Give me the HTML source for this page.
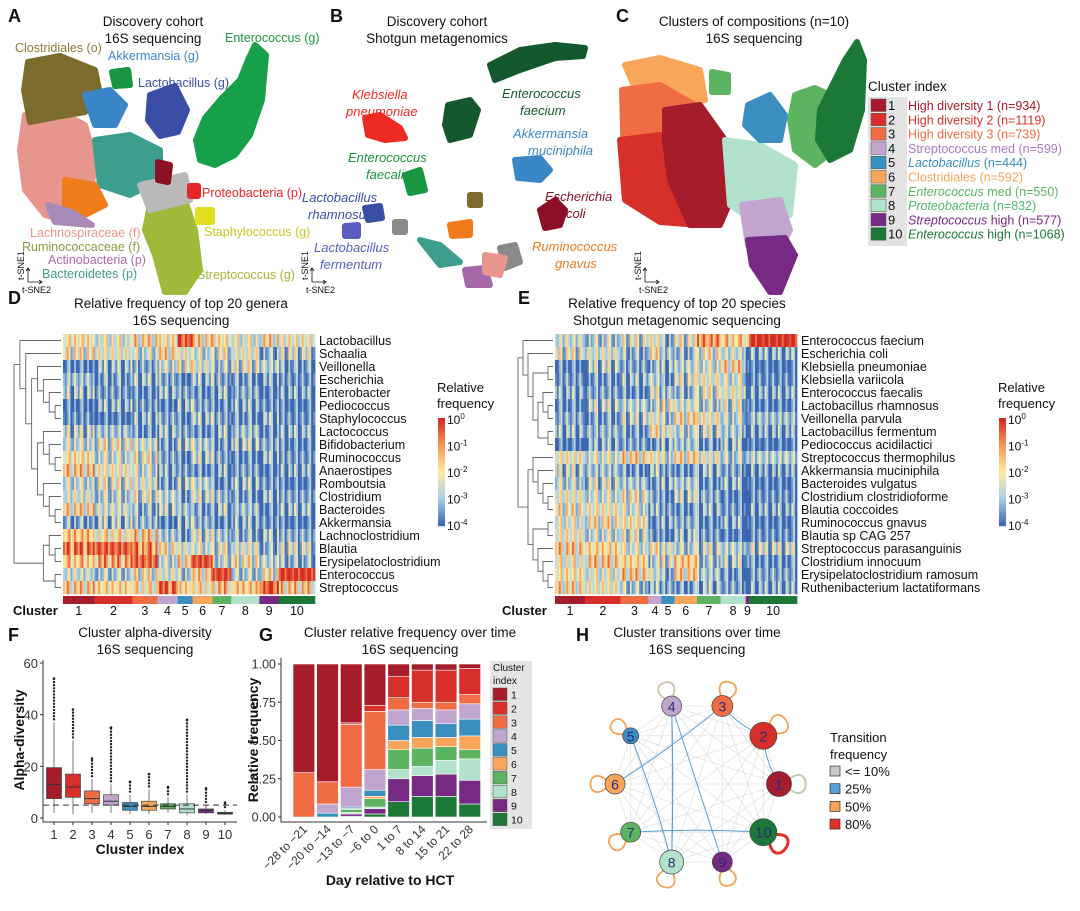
<!DOCTYPE html>
<html><head><meta charset="utf-8"><style>
body{margin:0;background:#fff}
svg{display:block;font-family:"Liberation Sans",Arial,sans-serif}
</style></head><body>
<svg id="fig" width="1080" height="911" viewBox="0 0 1080 911" xmlns="http://www.w3.org/2000/svg">
<g id="gA"></g>
<g id="gB"></g>
<g id="gC"></g>
<g id="gD"></g>
<g id="gE"></g>
<g id="gF"></g>
<g id="gG"></g>
<g id="gH"></g>
</svg>
<script>
const NS="http://www.w3.org/2000/svg";
function mk(parent,tag,attrs,name,text){const e=document.createElementNS(NS,tag);for(const k in attrs)e.setAttribute(k,attrs[k]);


if(text!==undefined)e.textContent=text;parent.appendChild(e);return e;}
function txt(p,x,y,s,o,name){o=o||{};return mk(p,'text',Object.assign({x:x,y:y,'font-size':o.fs||13,fill:o.fill||'#111','text-anchor':o.anchor||'start','font-weight':o.fw||'normal','font-style':o.fi||'normal'},o.tr?{transform:o.tr}:{}),name||'label',s);}
const CL=['#a51c2c','#d7302a','#f06c45','#c2a5cf','#3a8fc0','#f9a65a','#5cb460','#b2e2cc','#762a83','#1b7837'];

/* ---------- Panels A-C: t-SNE blobs ---------- */
const blobsA=[
['#e8958e',[[25,115],[60,112],[85,125],[95,160],[90,200],[70,222],[45,215],[25,190],[20,150]]],
['#7b6b2c',[[28,62],[60,56],[95,70],[100,95],[85,112],[50,118],[30,122],[24,90]]],
['#3a87c8',[[85,95],[110,90],[125,105],[115,125],[95,125]]],
['#3b4ea6',[[150,95],[175,86],[187,110],[178,132],[160,136],[148,120]]],
['#17a04a',[[255,45],[266,55],[262,100],[250,135],[235,155],[215,165],[200,160],[196,140],[205,118],[222,98],[240,80],[248,60]]],
['#3d9e8e',[[95,140],[130,135],[160,150],[160,180],[130,195],[100,185]]],
['#f07c1c',[[65,180],[95,185],[105,205],[85,215],[65,205]]],
['#a88ab8',[[48,205],[72,212],[92,225],[55,222]]],
['#9fb93a',[[150,205],[185,200],[195,230],[200,270],[185,292],[165,292],[155,255],[145,230]]],
['#b9b9b9',[[140,185],[185,175],[190,200],[150,210]]],
['#8b1026',[[158,162],[170,165],[168,182],[158,180]]],
['#e8262a',[[190,186],[198,186],[198,196],[190,196]]],
['#e0e020',[[198,210],[212,210],[212,222],[198,222]]],
['#1a9641',[[112,72],[128,70],[130,85],[115,86]]]];
const blobsB=[
['#14592e',[[490,65],[520,50],[555,45],[585,48],[583,56],[555,58],[520,70],[495,80]]],
['#14592e',[[448,105],[470,100],[478,110],[470,135],[450,140],[445,125]]],
['#ee2a24',[[365,118],[380,115],[400,128],[405,138],[385,140],[368,135]]],
['#3a87c8',[[515,160],[540,158],[550,170],[540,180],[518,178]]],
['#1a9641',[[405,175],[420,170],[425,190],[410,193]]],
['#3b4ea6',[[365,208],[380,206],[382,218],[368,220]]],
['#5a5ec0',[[345,226],[358,225],[358,236],[345,236]]],
['#8b1026',[[540,210],[555,200],[565,210],[560,225],[545,228]]],
['#8a8a8a',[[500,248],[515,245],[520,262],[505,268]]],
['#3d9e8e',[[420,240],[440,245],[460,262],[440,265]]],
['#f07c1c',[[450,225],[470,222],[470,235],[452,236]]],
['#a668a8',[[465,270],[485,268],[490,285],[468,285]]],
['#8a8a8a',[[395,222],[405,222],[405,232],[395,232]]],
['#e8958e',[[485,255],[505,258],[500,275],[485,272]]],
['#7b6b2c',[[470,195],[480,195],[480,205],[470,205]]]];
const blobsC=[
['#f9a65a',[[625,65],[660,58],[700,70],[705,100],[680,105],[640,100]]],
['#f06c45',[[622,90],[660,85],[695,105],[690,140],[660,160],[624,165]]],
['#d7302a',[[620,140],[660,135],[700,150],[720,200],[700,225],[660,222],[625,200]]],
['#a51c2c',[[665,110],[700,105],[725,140],[735,190],[720,225],[690,225],[670,180],[665,140]]],
['#b2e2cc',[[725,140],[760,145],[795,165],[790,215],[760,225],[730,205]]],
['#c2a5cf',[[742,205],[780,200],[790,230],[780,250],[748,245]]],
['#762a83',[[748,240],[785,238],[795,255],[780,292],[770,292],[752,265]]],
['#3a8fc0',[[748,105],[770,95],[785,115],[780,140],[760,140],[745,125]]],
['#5cb460',[[795,95],[815,88],[840,100],[835,150],[815,165],[795,150],[790,120]]],
['#1b7837',[[857,42],[864,60],[862,110],[850,150],[830,160],[818,140],[820,110],[835,80],[845,60]]],
['#5cb460',[[712,72],[728,75],[728,92],[712,92]]]];
function drawBlobs(g,bl){bl.forEach(b=>{mk(g,'polygon',{points:b[1].map(p=>p.join(',')).join(' '),fill:b[0],stroke:b[0],'stroke-width':6,'stroke-linejoin':'round'},'point-cluster');});}
function axArrow(g,x,y){mk(g,'path',{d:`M${x} ${y-14} L${x} ${y} L${x+14} ${y} M${x-2} ${y-11} L${x} ${y-14} L${x+2} ${y-11} M${x+11} ${y-2} L${x+14} ${y} L${x+11} ${y+2}`,fill:'none',stroke:'#111','stroke-width':0.8},'tsne-axes');
txt(g,x-4,y-2,'t-SNE1',{fs:9,tr:`rotate(-90 ${x-4} ${y-2})`},'tsne1-label');txt(g,x-6,y+11,'t-SNE2',{fs:9},'tsne2-label');}
const gA=document.getElementById('gA'),gB=document.getElementById('gB'),gC=document.getElementById('gC');
drawBlobs(gA,blobsA);drawBlobs(gB,blobsB);drawBlobs(gC,blobsC);
txt(gA,8,22,'A',{fs:18,fw:'bold'},'panel-label');
txt(gA,153,26,'Discovery cohort',{fs:13.5,anchor:'middle'},'title');txt(gA,153,43,'16S sequencing',{fs:13.5,anchor:'middle'},'title');
[['Clostridiales (o)',15,52,'#8b7a3a'],['Akkermansia (g)',108,60,'#3a87c8'],['Enterococcus (g)',225,42,'#1a9641'],['Lactobacillus (g)',138,87,'#3b4ea6'],['Proteobacteria (p)',202,197,'#e8262a'],['Staphylococcus (g)',204,236,'#c8c820'],['Lachnospiraceae (f)',30,237,'#e8958e'],['Ruminococcaceae (f)',22,251,'#8a9a3a'],['Actinobacteria (p)',48,264,'#b06aa8'],['Bacteroidetes (p)',42,278,'#3d9e8e'],['Streptococcus (g)',197,279,'#9fb93a']].forEach(l=>txt(gA,l[1],l[2],l[0],{fs:12.5,fill:l[3]},'taxon-label'));
axArrow(gA,28,282);
txt(gB,330,22,'B',{fs:18,fw:'bold'},'panel-label');
txt(gB,437,26,'Discovery cohort',{fs:13.5,anchor:'middle'},'title');txt(gB,437,43,'Shotgun metagenomics',{fs:13.5,anchor:'middle'},'title');
[['Klebsiella',352,99,'#ee2a24'],['pneumoniae',346,116,'#ee2a24'],['Enterococcus',502,98,'#14592e'],['faecium',520,115,'#14592e'],['Akkermansia',513,138,'#3a87c8'],['muciniphila',528,155,'#3a87c8'],['Enterococcus',348,162,'#1a9641'],['faecalis',366,179,'#1a9641'],['Lactobacillus',302,202,'#3b4ea6'],['rhamnosus',308,219,'#3b4ea6'],['Lactobacillus',314,252,'#5a5ec0'],['fermentum',320,269,'#5a5ec0'],['Escherichia',545,201,'#8b1026'],['coli',566,218,'#8b1026'],['Ruminococcus',532,251,'#f07c1c'],['gnavus',555,268,'#f07c1c']].forEach(l=>txt(gB,l[1],l[2],l[0],{fs:13,fill:l[3],fi:'italic'},'species-label'));
axArrow(gB,312,282);
txt(gC,616,22,'C',{fs:18,fw:'bold'},'panel-label');
txt(gC,754,26,'Clusters of compositions (n=10)',{fs:13.5,anchor:'middle'},'title');txt(gC,754,43,'16S sequencing',{fs:13.5,anchor:'middle'},'title');
axArrow(gC,645,282);
txt(gC,868,91,'Cluster index',{fs:13.5},'legend-title');
mk(gC,'rect',{x:868,y:97,width:39,height:149,fill:'#e3e3e3'},'legend-bg');
const legC=[['High diversity 1 (n=934)',''],['High diversity 2 (n=1119)',''],['High diversity 3 (n=739)',''],['Streptococcus med (n=599)',''],['Lactobacillus',' (n=444)'],['Clostridiales (n=592)',''],['Enterococcus',' med (n=550)'],['Proteobacteria',' (n=832)'],['Streptococcus',' high (n=577)'],['Enterococcus',' high (n=1068)']];
legC.forEach((l,i)=>{const y=99+i*14.3;mk(gC,'rect',{x:871,y:y,width:15,height:12.5,fill:CL[i],stroke:'#555','stroke-width':0.5},'legend-swatch');
txt(gC,888,y+11,String(i+1),{fs:13},'legend-number');
const t=txt(gC,908,y+11,'',{fs:12.5,fill:i==7?'#4cb870':(i==3?'#a87cc0':CL[i])},'legend-entry');
const it=l[1]!==''; const s1=document.createElementNS(NS,'tspan');s1.textContent=l[0];if(it)s1.setAttribute('font-style','italic');t.appendChild(s1);
if(it){const s2=document.createElementNS(NS,'tspan');s2.textContent=l[1];t.appendChild(s2);}});

/* ---------- Heatmaps ---------- */
const stops=[[0,[60,102,177]],[1,[171,208,230]],[2,[253,236,160]],[3,[249,150,85]],[4,[210,43,38]]];
function cmap(v){v=Math.max(0,Math.min(4,v));const i=Math.min(3,Math.floor(v)),f=v-i,a=stops[i][1],b=stops[i+1][1];return `rgb(${a.map((c,k)=>Math.round(c+(b[k]-c)*f)).join(',')})`;}
const jitter=[0,-0.7,0.9,-0.4,1.3,-0.9,0.2,0.6,-1.1,1.0,-0.2,0.4,-0.6,1.6,-0.8,0.1,0.7,-0.5,1.1,-1.0,0.3];
const genera=['Lactobacillus','Schaalia','Veillonella','Escherichia','Enterobacter','Pediococcus','Staphylococcus','Lactococcus','Bifidobacterium','Ruminococcus','Anaerostipes','Romboutsia','Clostridium','Bacteroides','Akkermansia','Lachnoclostridium','Blautia','Erysipelatoclostridium','Enterococcus','Streptococcus'];
const levelsD=[[1.8,1.8,1.8,1.8,4,1.8,1.8,1.8,1.8,1.6],[1.5,1.5,1.5,1.8,1.5,1.5,1.3,1.5,1.0,1.0],[0.5,0.5,0.5,1.5,1.3,1.3,1.2,1.2,1.0,0.8],[0.8,0.8,0.6,0.5,0.3,0.5,0.5,0.8,0.3,0.3],[0.6,0.4,0.5,0.5,0.5,0.6,0.5,0.6,0.4,0.3],[0.4,0.4,0.4,0.4,0.5,0.5,0.6,0.4,0.3,0.3],[0.3,0.3,0.4,0.5,0.5,0.6,0.5,0.7,0.5,0.3],[0.8,0.8,0.6,0.6,0.5,0.6,0.6,0.8,0.6,0.4],[1.5,1.3,1.2,0.8,0.8,0.9,0.8,0.8,0.6,0.5],[1.8,1.5,1.3,0.5,0.5,0.8,0.5,0.6,0.5,0.4],[2.0,1.6,1.5,0.4,0.4,0.6,0.4,0.5,0.4,0.3],[1.5,1.2,1.3,0.8,0.8,1.0,0.5,0.6,0.4,0.3],[1.3,1.3,1.2,1.0,0.8,1.0,0.7,0.8,0.5,0.5],[1.8,1.2,1.0,0.8,0.8,0.8,0.7,0.8,0.5,0.5],[0.9,0.7,0.7,0.4,0.5,0.6,0.5,0.4,0.3,0.3],[2.3,2.2,2.0,0.8,0.8,1.0,0.8,1.0,0.6,0.6],[3.0,3.4,3.2,1.6,1.3,1.6,1.2,1.3,1.0,1.0],[2.6,2.4,3.3,1.5,1.8,3.6,1.4,1.5,1.0,1.0],[1.2,1.3,1.5,1.3,1.3,1.8,3.7,1.3,1.5,3.8],[2.0,2.0,2.2,3.2,2.0,2.2,2.2,2.2,3.9,2.0]];
const clusterSizesD=[934,1119,739,599,444,592,550,832,577,1068];
const species=['Enterococcus faecium','Escherichia coli','Klebsiella pneumoniae','Klebsiella variicola','Enterococcus faecalis','Lactobacillus rhamnosus','Veillonella parvula','Lactobacillus fermentum','Pediococcus acidilactici','Streptococcus thermophilus','Akkermansia muciniphila','Bacteroides vulgatus','Clostridium clostridioforme','Blautia coccoides','Ruminococcus gnavus','Blautia sp CAG 257','Streptococcus parasanguinis','Clostridium innocuum','Erysipelatoclostridium ramosum','Ruthenibacterium lactatiformans'];
const levelsE=[[1.2,1.3,1.2,1.5,1.0,1.2,2.8,2.5,3.0,3.9],[1.2,1.3,1.0,1.5,0.8,1.0,1.5,1.2,0.5,0.4],[0.5,0.8,0.5,1.0,0.6,1.0,1.6,1.8,0.4,0.2],[0.4,0.7,0.5,1.0,0.6,1.0,1.5,1.6,0.4,0.2],[0.4,0.5,0.6,1.0,0.8,1.0,1.3,1.5,0.4,0.3],[0.6,0.8,1.0,1.2,1.4,1.2,1.3,1.1,0.6,0.4],[0.6,0.8,0.9,1.4,1.2,1.6,1.6,1.4,1.0,0.8],[0.5,0.7,0.8,1.5,1.4,1.3,1.0,0.9,0.4,0.3],[0.3,0.4,0.5,0.6,0.6,0.8,0.7,0.6,0.4,0.2],[1.6,1.7,1.8,1.6,1.5,1.6,1.4,1.3,1.8,1.0],[0.9,0.8,0.7,0.6,0.4,0.6,0.6,0.5,0.3,0.2],[1.4,1.0,0.9,0.6,0.6,0.9,0.6,0.5,0.3,0.3],[1.5,1.6,1.4,0.5,0.5,0.8,0.6,0.4,0.3,0.3],[1.5,1.6,1.6,0.4,0.4,0.6,0.5,0.4,0.3,0.3],[1.8,1.6,1.7,0.4,0.4,0.6,0.5,0.4,0.3,0.3],[1.6,1.5,1.2,0.3,0.3,0.5,0.4,0.3,0.3,0.3],[2.0,2.0,1.7,1.4,1.3,1.3,1.0,1.0,1.4,0.9],[2.0,2.0,2.0,1.3,1.2,2.2,1.2,0.8,0.8,0.6],[1.8,1.8,2.0,1.2,1.0,1.8,0.9,0.7,0.6,0.5],[1.8,1.6,1.2,0.5,0.5,0.7,0.6,0.5,0.4,0.3]];
const clusterSizesE=[345,410,320,150,150,260,270,290,40,550];
const treeD=[[0,[1,[[2,[3,[4,[5,6]]]],[[7,[8,[9,10]]],[11,[12,[13,14]]]]]]],[[15,[16,17]],[18,19]]];
const treeE=[[0,[1,[[2,3],[[4,[5,6]],[7,8]]]]],[[9,[10,[11,[12,13]]]],[[14,15],[16,[17,[18,19]]]]]];
function heatmap(g,o){
 const rows=o.rows,lev=o.levels,sizes=o.sizes,total=sizes.reduce((a,b)=>a+b,0);
 const W=o.x1-o.x0,rh=(o.y1-o.y0)/rows.length,cw=1.9;
 let cx=o.x0;const bounds=[];
 sizes.forEach((s,ci)=>{const w=W*s/total;bounds.push([cx,w]);
  const n=Math.max(1,Math.round(w/cw)),sw=w/n;
  rows.forEach((r,ri)=>{for(let k=0;k<n;k++){const j=jitter[(k*3+ri*7+ci*5)%jitter.length];
   mk(g,'rect',{x:(cx+k*sw).toFixed(2),y:(o.y0+ri*rh).toFixed(2),width:(sw+0.4).toFixed(2),height:(rh+0.3).toFixed(2),fill:cmap(lev[ri][ci]+j*0.9)},'heatmap-cell');}});
  mk(g,'rect',{x:cx,y:o.y1+2,width:w+0.3,height:8,fill:CL[ci]},'cluster-bar-segment');
  cx+=w;});
 rows.forEach((r,ri)=>txt(g,o.x1+4,o.y0+ri*rh+rh/2+4.5,r,{fs:12.5},'row-label'));
 txt(g,o.clx,o.y1+21,'Cluster',{fs:13,fw:'bold'},'cluster-axis-label');
 bounds.forEach((b,ci)=>txt(g,b[0]+b[1]/2,o.y1+21,String(ci+1),{fs:12.5,anchor:'middle'},'cluster-tick'));
 // dendrogram
 const depth=t=>Array.isArray(t)?1+Math.max(depth(t[0]),depth(t[1])):0;
 const D=depth(o.tree),step=(o.x0-2-o.dx)/D;
 function draw(t){if(!Array.isArray(t))return{y:o.y0+t*rh+rh/2,x:o.x0-2};
  const a=draw(t[0]),b=draw(t[1]);const x=o.x0-2-depth(t)*step;
  mk(g,'path',{d:`M${a.x} ${a.y}H${x}V${b.y}H${b.x}`,fill:'none',stroke:'#666','stroke-width':0.9},'dendrogram-branch');
  return{x:x,y:(a.y+b.y)/2};}
 draw(o.tree);
 // colorbar
 for(let i=0;i<54;i++)mk(g,'rect',{x:o.cbx,y:418+i*2,width:7,height:2.2,fill:cmap(4-i/53*4)},'colorbar-segment');
 txt(g,o.cbx-1,392,'Relative',{fs:13},'colorbar-title');txt(g,o.cbx-1,408,'frequency',{fs:13},'colorbar-title');
 ['0','-1','-2','-3','-4'].forEach((e,i)=>{const t=txt(g,o.cbx+9,424+i*26.5,'10',{fs:12},'colorbar-tick');const s=document.createElementNS(NS,'tspan');s.setAttribute('dy','-5');s.setAttribute('font-size','8');s.textContent=e;t.appendChild(s);});
}
const gD=document.getElementById('gD'),gE=document.getElementById('gE');
txt(gD,8,304,'D',{fs:18,fw:'bold'},'panel-label');
txt(gD,181,308,'Relative frequency of top 20 genera',{fs:13.5,anchor:'middle'},'title');txt(gD,181,325,'16S sequencing',{fs:13.5,anchor:'middle'},'title');
heatmap(gD,{rows:genera,levels:levelsD,sizes:clusterSizesD,x0:63,x1:315,y0:334,y1:594,tree:treeD,dx:14,cbx:438,clx:13});
txt(gE,518,304,'E',{fs:18,fw:'bold'},'panel-label');
txt(gE,677,308,'Relative frequency of top 20 species',{fs:13.5,anchor:'middle'},'title');txt(gE,677,325,'Shotgun metagenomic sequencing',{fs:13.5,anchor:'middle'},'title');
heatmap(gE,{rows:species,levels:levelsE,sizes:clusterSizesE,x0:555,x1:797,y0:334,y1:594,tree:treeE,dx:518,cbx:999,clx:502});

/* ---------- Panel F: boxplot ---------- */
const fClusters=['1','2','3','4','5','6','7','8','9','10'];
const fMedian=[13,12,7.5,6.5,4.5,4.5,4.5,3.5,3,1.8];
const fQ1=[7.5,8,5.5,5,3,3,3.5,2,2,1.5];
const fQ3=[19.5,17,10.5,9,6,6.5,5.5,5.5,3.5,2.2];
const fLo=[2,1.5,2,2,1.5,1.5,2,1,1.5,1.2];
const fHi=[37,30,15,13,9,11,8,9,5,3];
const fOutMax=[54,42,23,35,14,17,12,38,11.5,6];
const fTicks=[0,20,40,60];
const gF=document.getElementById('gF');
const fy=v=>818-v*2.583,fx=i=>54+i*19;
txt(gF,8,641,'F',{fs:18,fw:'bold'},'panel-label');
txt(gF,145,637,'Cluster alpha-diversity',{fs:13.5,anchor:'middle'},'title');txt(gF,145,654,'16S sequencing',{fs:13.5,anchor:'middle'},'title');
mk(gF,'path',{d:'M43 660V822H237',fill:'none',stroke:'#333','stroke-width':1},'axes');
fTicks.forEach(t=>{mk(gF,'line',{x1:40,x2:43,y1:fy(t),y2:fy(t),stroke:'#333'},'y-tick');txt(gF,38,fy(t)+5,String(t),{fs:13,anchor:'end',fill:'#333'},'y-tick-label');});
txt(gF,24,740,'Alpha-diversity',{fs:14,fw:'bold',anchor:'middle',tr:'rotate(-90 24 740)'},'y-axis-title');
fClusters.forEach((c,i)=>{const x=fx(i),w=15;
 mk(gF,'line',{x1:x,x2:x,y1:fy(fLo[i]),y2:fy(fHi[i]),stroke:'#777','stroke-width':1},'whisker');
 for(let v=fHi[i]+1.2;v<=fOutMax[i];v+=1.2)mk(gF,'circle',{cx:x,cy:fy(v),r:1.2,fill:'#222'},'outlier');
 mk(gF,'circle',{cx:x,cy:fy(fOutMax[i]),r:1.3,fill:'#222'},'outlier');
 mk(gF,'rect',{x:x-w/2,y:fy(fQ3[i]),width:w,height:fy(fQ1[i])-fy(fQ3[i]),fill:CL[i],stroke:'#444','stroke-width':0.7},'box-cluster-'+c);
 mk(gF,'line',{x1:x-w/2,x2:x+w/2,y1:fy(fMedian[i]),y2:fy(fMedian[i]),stroke:'#333','stroke-width':1},'median');
 mk(gF,'line',{x1:x,x2:x,y1:822,y2:825,stroke:'#333'},'x-tick');
 txt(gF,x,839,c,{fs:13,anchor:'middle',fill:'#333'},'x-tick-label');});
mk(gF,'line',{x1:43,x2:237,y1:fy(5),y2:fy(5),stroke:'#333','stroke-dasharray':'6 4','stroke-width':1},'threshold-line');
txt(gF,140,854,'Cluster index',{fs:14,fw:'bold',anchor:'middle'},'x-axis-title');

/* ---------- Panel G: stacked bars ---------- */
const gPeriods=['\u221228 to \u221221','\u221220 to \u221214','\u221213 to \u22127','\u22126 to 0','1 to 7','8 to 14','15 to 21','22 to 28'];
const gC1=[0.71,0.77,0.385,0.27,0.08,0.04,0.04,0.03];
const gC2=[0,0,0.01,0.04,0.14,0.21,0.21,0.17];
const gC3=[0.29,0.145,0.41,0.38,0.08,0.04,0.05,0.06];
const gC4=[0,0.06,0.13,0.135,0.10,0.08,0.09,0.10];
const gC5=[0,0.025,0.01,0.04,0.10,0.11,0.09,0.11];
const gC6=[0,0,0.005,0.015,0.06,0.07,0.06,0.09];
const gC7=[0,0,0.02,0.055,0.13,0.12,0.09,0.06];
const gC8=[0,0,0.01,0.01,0.06,0.06,0.09,0.14];
const gC9=[0,0,0.015,0.035,0.15,0.135,0.145,0.155];
const gC10=[0,0,0.005,0.02,0.10,0.135,0.135,0.085];
const gSeries=[gC10,gC9,gC8,gC7,gC6,gC5,gC4,gC3,gC2,gC1];
const gTicks=['0.00','0.25','0.50','0.75','1.00'];
const gG=document.getElementById('gG');
const gy=v=>817-v*153,gx=i=>293+i*23.7;
txt(gG,259,641,'G',{fs:18,fw:'bold'},'panel-label');
txt(gG,410,637,'Cluster relative frequency over time',{fs:13.5,anchor:'middle'},'title');txt(gG,410,654,'16S sequencing',{fs:13.5,anchor:'middle'},'title');
mk(gG,'path',{d:'M281 658V822H487',fill:'none',stroke:'#333','stroke-width':1},'axes');
gTicks.forEach(t=>{const v=parseFloat(t);mk(gG,'line',{x1:278,x2:281,y1:gy(v),y2:gy(v),stroke:'#333'},'y-tick');txt(gG,276,gy(v)+4.5,t,{fs:12.5,anchor:'end',fill:'#333'},'y-tick-label');});
txt(gG,258,740,'Relative frequency',{fs:14,fw:'bold',anchor:'middle',tr:'rotate(-90 258 740)'},'y-axis-title');
gPeriods.forEach((p,i)=>{let cum=0;const x=gx(i);
 gSeries.forEach((s,k)=>{const v=s[i];if(v>0)mk(gG,'rect',{x:x,y:gy(cum+v),width:21.7,height:gy(cum)-gy(cum+v),fill:CL[9-k],stroke:'#fff','stroke-width':0.6},'bar-segment-cluster-'+(10-k));cum+=v;});
 txt(gG,x+15,830,p,{fs:12,anchor:'end',fill:'#333',tr:`rotate(-45 ${x+15} 830)`},'x-tick-label');});
txt(gG,390,885,'Day relative to HCT',{fs:14,fw:'bold',anchor:'middle'},'x-axis-title');
mk(gG,'rect',{x:490,y:661,width:42,height:168,fill:'#e5e5e5'},'legend-bg');
txt(gG,493,671,'Cluster',{fs:10},'legend-title');txt(gG,493,684,'index',{fs:10},'legend-title');
CL.forEach((c,i)=>{mk(gG,'rect',{x:493,y:688+i*13.9,width:14,height:12.5,fill:c,stroke:'#555','stroke-width':0.5},'legend-swatch');txt(gG,511,698.5+i*13.9,String(i+1),{fs:10.5},'legend-label');});

/* ---------- Panel H: network ---------- */
const hNodes=['1','2','3','4','5','6','7','8','9','10'];
const hSize=[12.5,13.5,10.5,10,8,10,10,12,10,13.5];
const hSelf=[10,50,50,10,50,50,50,50,50,80];
const hEdgesFrom=['3','2','4','4','3','10','5','4'];
const hEdgesTo=['6','1','8','9','2','7','8','8'];
const gH=document.getElementById('gH');
const hcx=697,hcy=784,hR=82;
const hAng=[0,-36,-72,-108,-144,180,144,108,72,36].map(a=>a*Math.PI/180);
const hPos=i=>[hcx+hR*Math.cos(hAng[i]),hcy+hR*Math.sin(hAng[i])];
txt(gH,576,641,'H',{fs:18,fw:'bold'},'panel-label');
txt(gH,697,637,'Cluster transitions over time',{fs:13.5,anchor:'middle'},'title');txt(gH,697,654,'16S sequencing',{fs:13.5,anchor:'middle'},'title');
for(let i=0;i<10;i++)for(let j=i+1;j<10;j++){const a=hPos(i),b=hPos(j);mk(gH,'line',{x1:a[0],y1:a[1],x2:b[0],y2:b[1],stroke:'#e4e4e4','stroke-width':0.8},'edge-minor');}
hEdgesFrom.forEach((f,k)=>{const a=hPos(hNodes.indexOf(f)),b=hPos(hNodes.indexOf(hEdgesTo[k]));const mx=(a[0]+b[0])/2+(hcx-(a[0]+b[0])/2)*0.08,my=(a[1]+b[1])/2+(hcy-(a[1]+b[1])/2)*0.08;
 mk(gH,'path',{d:`M${a[0]} ${a[1]}Q${mx} ${my} ${b[0]} ${b[1]}`,fill:'none',stroke:'#5a9fd4','stroke-width':1},'edge-25pct');});
const fcol=v=>v>=80?'#e0302a':v>=50?'#f7a254':v>=25?'#5a9fd4':'#c9c1aa';
hNodes.forEach((n,i)=>{const p=hPos(i),a=hAng[i],r=hSize[i];
 const p1=[p[0]+r*Math.cos(a-0.45),p[1]+r*Math.sin(a-0.45)],p2=[p[0]+r*Math.cos(a+0.45),p[1]+r*Math.sin(a+0.45)];
 const L=r+26;const c1=[p[0]+L*Math.cos(a-0.6),p[1]+L*Math.sin(a-0.6)],c2=[p[0]+L*Math.cos(a+0.6),p[1]+L*Math.sin(a+0.6)];
 mk(gH,'path',{d:`M${p1[0]} ${p1[1]}C${c1[0]} ${c1[1]} ${c2[0]} ${c2[1]} ${p2[0]} ${p2[1]}`,fill:'none',stroke:fcol(hSelf[i]),'stroke-width':hSelf[i]>=80?3:1.8},'self-loop');});
hNodes.forEach((n,i)=>{const p=hPos(i);mk(gH,'circle',{cx:p[0],cy:p[1],r:hSize[i],fill:CL[i],stroke:'#444','stroke-width':0.7},'node-cluster-'+n);
 txt(gH,p[0],p[1]+5.5,n,{fs:hSize[i]>12?15:14,anchor:'middle',fill:'#2b2b7a'},'node-label');});
txt(gH,830,742,'Transition',{fs:13},'legend-title');txt(gH,830,759,'frequency',{fs:13},'legend-title');
[['<= 10%','#c8c8c8'],['25%','#5a9fd4'],['50%','#f7a254'],['80%','#e0302a']].forEach((l,i)=>{mk(gH,'rect',{x:830,y:766+i*17.7,width:10,height:10,fill:l[1],stroke:'#333','stroke-width':0.7},'legend-swatch');txt(gH,845,776+i*17.7,l[0],{fs:13},'legend-entry');});
</script>
</body></html>
